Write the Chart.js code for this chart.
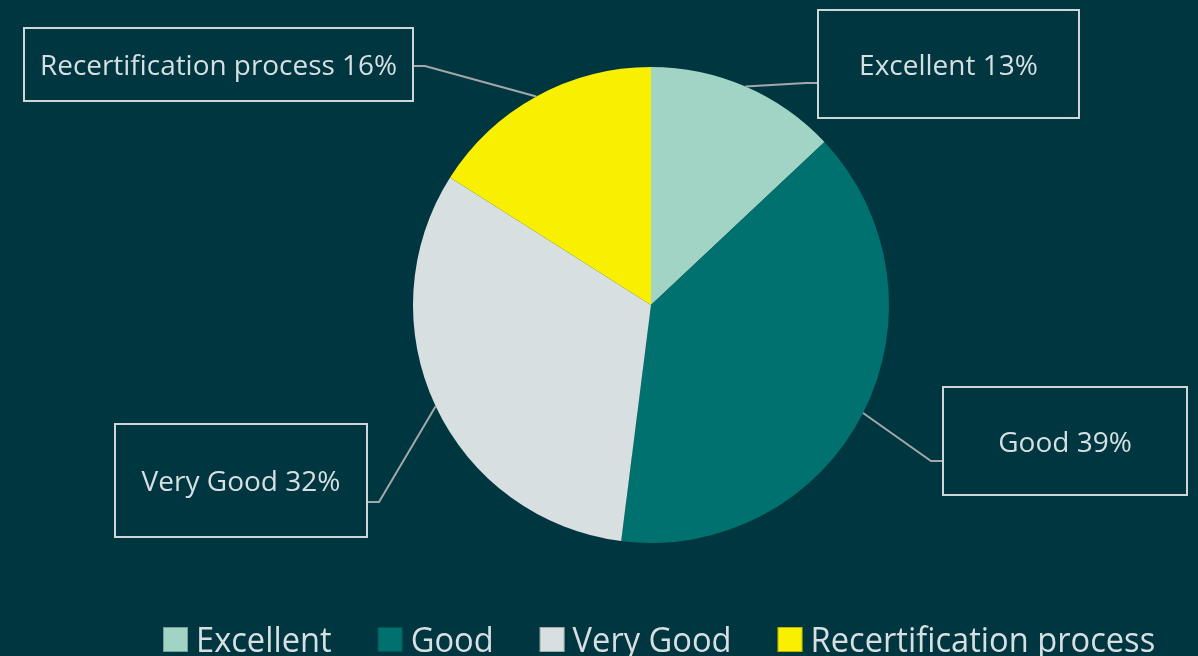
<!DOCTYPE html>
<html>
<head>
<meta charset="utf-8">
<script src="https://cdn.jsdelivr.net/npm/chart.js@4.4.1/dist/chart.umd.min.js"></script>
<style>
  html, body { margin: 0; padding: 0; background: #003640; overflow: hidden; }
  canvas { display: block; }
</style>
</head>
<body>
<canvas id="grafico" width="1198" height="656"></canvas>
<script>
const categorias = ['Excellent', 'Good', 'Very Good', 'Recertification process'];
const percentuais = [13, 39, 32, 16];
const cores = ['#A2D4C6', '#00716F', '#D8DFE1', '#F8F000'];

// caixas das etiquetas (x, y, largura, altura) e lado de onde sai a linha
const caixas = [
    { x: 818, y: 10,  w: 261, h: 108, lado: 'esq', ly: 83 },
    { x: 943, y: 387, w: 244, h: 108, lado: 'esq', ly: 461 },
    { x: 115, y: 424, w: 252, h: 113, lado: 'dir', ly: 502 },
    { x: 24,  y: 28,  w: 389, h: 73,  lado: 'dir', ly: 66 }
];

const corTexto = '#D6DFE1';
const fonte = '"Open Sans", "Noto Sans", sans-serif';

const fundo = {
    id: 'fundo',
    beforeDraw(chart) {
        const ctx = chart.ctx;
        ctx.save();
        ctx.fillStyle = '#003640';
        ctx.fillRect(0, 0, chart.width, chart.height);
        ctx.restore();
    }
};

const etiquetas = {
    id: 'etiquetas',
    afterDatasetsDraw(chart) {
        const ctx = chart.ctx;
        const arcos = chart.getDatasetMeta(0).data;
        ctx.save();
        arcos.forEach((arco, i) => {
            const cx = caixas[i];
            const meio = (arco.startAngle + arco.endAngle) / 2;
            const ax = arco.x + Math.cos(meio) * arco.outerRadius;
            const ay = arco.y + Math.sin(meio) * arco.outerRadius;
            const bx = cx.lado === 'esq' ? cx.x : cx.x + cx.w;
            const cotovelo = cx.lado === 'esq' ? bx - 12 : bx + 12;

            ctx.strokeStyle = '#A3A8AA';
            ctx.lineWidth = 2;
            ctx.beginPath();
            ctx.moveTo(ax, ay);
            ctx.lineTo(cotovelo, cx.ly);
            ctx.lineTo(bx, cx.ly);
            ctx.stroke();

            ctx.strokeStyle = '#CDD6D8';
            ctx.lineWidth = 2;
            ctx.strokeRect(cx.x, cx.y, cx.w, cx.h);

            ctx.fillStyle = corTexto;
            ctx.font = '28px ' + fonte;
            ctx.textAlign = 'center';
            ctx.textBaseline = 'middle';
            const txt = `${chart.data.labels[i]} ${chart.data.datasets[0].data[i]}%`;
            const larg = ctx.measureText(txt).width;
            const alvo = cx.w - 32;
            const esc = Math.min(1, alvo / larg);
            ctx.save();
            ctx.translate(cx.x + cx.w / 2, cx.y + cx.h / 2 + 3);
            ctx.scale(esc, 1);
            ctx.fillText(txt, 0, 0);
            ctx.restore();
        });
        ctx.restore();
    }
};

// legenda desenhada na base, levemente comprimida na horizontal
const legenda = {
    id: 'legenda',
    afterDraw(chart) {
        const ctx = chart.ctx;
        const ds = chart.data.datasets[0];
        const escala = 0.96;
        let x = 163;
        ctx.save();
        ctx.font = '34px ' + fonte;
        ctx.textBaseline = 'alphabetic';
        ctx.textAlign = 'left';
        chart.data.labels.forEach((lab, i) => {
            ctx.fillStyle = ds.backgroundColor[i];
            ctx.fillRect(x, 627, 25, 25);
            ctx.strokeStyle = 'rgba(0,0,0,0.25)';
            ctx.lineWidth = 1;
            ctx.strokeRect(x + 0.5, 627.5, 24, 24);
            const tx = x + 33;
            const w = ctx.measureText(lab).width * escala;
            ctx.save();
            ctx.translate(tx, 652);
            ctx.scale(escala, 1);
            ctx.fillStyle = corTexto;
            ctx.fillText(lab, 0, 0);
            ctx.restore();
            x = tx + w + 46;
        });
        ctx.restore();
    }
};

new Chart(document.getElementById('grafico').getContext('2d'), {
    type: 'pie',
    data: {
        labels: categorias,
        datasets: [{
            data: percentuais,
            backgroundColor: cores,
            borderColor: cores,
            borderWidth: 0
        }]
    },
    options: {
        responsive: false,
        animation: false,
        layout: { padding: { top: 67, bottom: 113, left: 413, right: 309 } },
        plugins: { legend: { display: false }, tooltip: { enabled: false } }
    },
    plugins: [fundo, etiquetas, legenda]
});
</script>
</body>
</html>
